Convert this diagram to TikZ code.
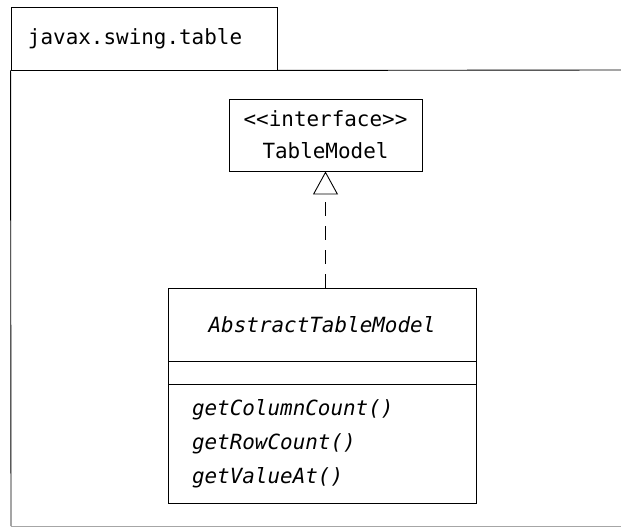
\documentclass[tikz,border=0pt]{standalone}
\usepackage{fontspec}
\setmonofont{DejaVu Sans Mono}
\usetikzlibrary{positioning, arrows.meta}
\tikzset{
	pkgtab/.style={rectangle, draw=black, line width=0.9pt, minimum width=266bp, minimum height=63bp, inner xsep=17bp, inner ysep=0pt, text width=232bp, align=left, font=\ttfamily\fontsize{21}{30}\selectfont},
	iface/.style={rectangle, draw=black, line width=0.9pt, minimum width=193bp, minimum height=72bp, inner sep=0pt, align=center, font=\ttfamily\fontsize{21}{32}\selectfont},
	cname/.style={rectangle, draw=black, line width=0.9pt, outer sep=0pt, minimum width=308bp, minimum height=73bp, inner sep=0pt, font=\ttfamily\itshape\fontsize{21}{30}\selectfont},
	cattr/.style={rectangle, draw=black, line width=0.9pt, outer sep=0pt, minimum width=308bp, minimum height=23bp, inner sep=0pt},
	cops/.style={rectangle, draw=black, line width=0.9pt, outer sep=0pt, minimum width=308bp, minimum height=119bp, inner xsep=24bp, inner ysep=0pt, text width=260bp, align=left, font=\ttfamily\itshape\fontsize{21}{34}\selectfont},
	frame/.style={line width=0.9pt},
	realize/.style={line width=0.9pt, dash pattern=on 14bp off 10bp, -{Triangle[open, length=23bp, width=25bp]}}
}
\begin{document}
\begin{tikzpicture}[x=1bp, y=-1bp]
	\useasboundingbox (0,0) rectangle (621,527);

	% package frame
	\node (tab) [pkgtab] at (144,38.5) {javax.swing.table};
	\coordinate (frameBL) at (11,526);
	\coordinate (frameTR) at (621,70);
	\coordinate (frameBR) at (621,526);
	\draw [frame] (tab.south east) -- (frameTR);
	\draw [frame] (tab.south west) -- (frameBL);
	\draw [frame, black!35] (frameBL) -- (frameBR);

	% interface
	\node (tablemodel) [iface] at (325.5,135) {<<interface>>\\TableModel};

	% abstract class
	\node (absname) [cname] at (322,324.5) {AbstractTableModel};
	\node (absattr) [cattr, below=0pt of absname] {};
	\node (absops) [cops, below=0pt of absattr] {getColumnCount()\\getRowCount()\\getValueAt()};

	\draw [realize] (absname.north -| tablemodel.south) -- (tablemodel.south);

\end{tikzpicture}
\end{document}
